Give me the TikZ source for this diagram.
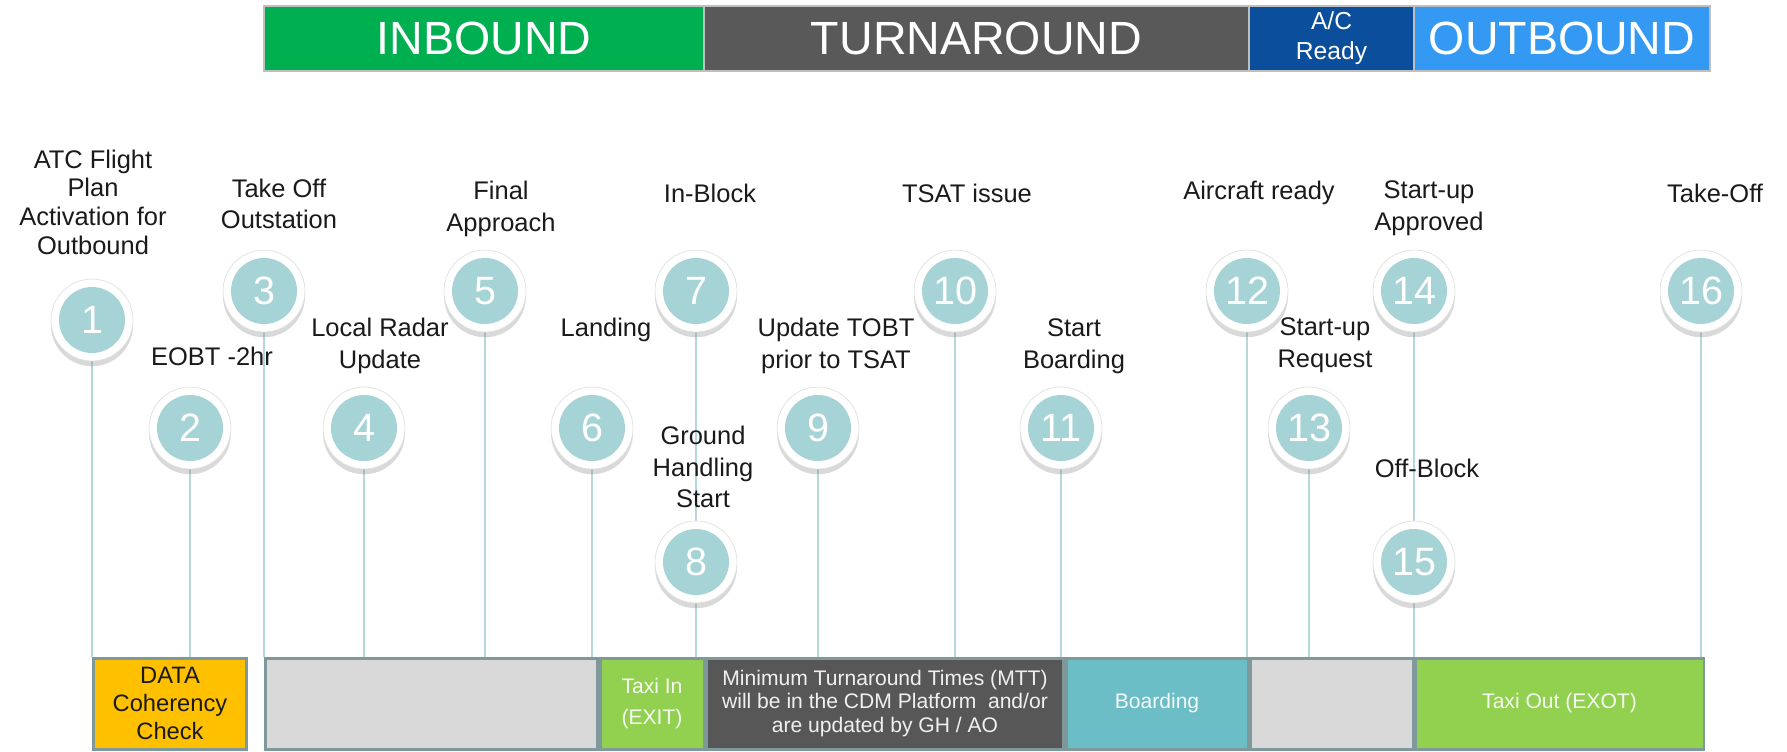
\documentclass[tikz,border=0pt]{standalone}
\usepackage{fontspec}
\setmainfont{Liberation Sans}
\usetikzlibrary{shadows}

\definecolor{inboundgreen}{HTML}{00B050}
\definecolor{turngrey}{HTML}{595959}
\definecolor{acblue}{HTML}{0B4E9C}
\definecolor{outblue}{HTML}{3399F3}
\definecolor{topframe}{HTML}{BFBFBF}
\definecolor{disc}{HTML}{A6D3D6}
\definecolor{stemline}{HTML}{B5D8DA}
\definecolor{barline}{HTML}{7F989A}
\definecolor{datayellow}{HTML}{FFC000}
\definecolor{panelgrey}{HTML}{D9D9D9}
\definecolor{taxigreen}{HTML}{92D050}
\definecolor{boardteal}{HTML}{6BBDC6}
\definecolor{mttgrey}{HTML}{575757}
\definecolor{labeltext}{HTML}{1A1A1A}

\pgfdeclarelayer{background}
\pgfsetlayers{background,main}

\tikzset{
    phase/.style={draw=topframe, line width=0.8pt, text=white, inner sep=0pt,
        minimum height=1.3cm, font=\fontsize{26.5}{30}\selectfont},
    milestone/.style={circle, fill=white, draw=black!12, line width=0.4pt,
        minimum size=1.64cm, inner sep=0pt, text=white,
        font=\fontsize{22.5}{24}\selectfont,
        path picture={\fill[disc] (path picture bounding box.center) circle (0.66cm);},
        drop shadow={shadow xshift=0pt, shadow yshift=-3pt, opacity=0.3}},
    event/.style={align=center, text=labeltext, inner sep=0pt,
        font=\fontsize{14.5}{18}\selectfont},
    stage/.style={draw=barline, line width=1.7pt, inner sep=0pt, align=center,
        minimum height=1.82cm, font=\fontsize{12}{13.5}\selectfont},
    stem/.style={draw=stemline, line width=1.1pt}
}

\begin{document}
\begin{tikzpicture}[x=0.02cm, y=-0.02cm]
        \useasboundingbox (0,0) rectangle (1787,751);

        \node[phase, fill=inboundgreen, minimum width=8.8cm] (inbound) at (484,38.5) {INBOUND};
        \node[phase, fill=turngrey, minimum width=10.9cm] (turnaround) at (976.5,38.5) {TURNAROUND};
        \node[phase, fill=acblue, minimum width=3.3cm, align=center, font=\fontsize{14}{17}\selectfont] (acReady) at (1331.5,38.5) {A/C\\Ready};
        \node[phase, fill=outblue, minimum width=5.92cm] (outbound) at (1562,38.5) {OUTBOUND};

        \node[stage, fill=datayellow, minimum width=3.08cm, text=labeltext, font=\fontsize{13.5}{16}\selectfont] (barDC) at (170,703.5) {DATA\\Coherency\\Check};
        \node[stage, fill=panelgrey, minimum width=6.66cm] (barG1) at (431.5,703.5) {};
        \node[stage, fill=taxigreen, minimum width=2.08cm, text=white!92!taxigreen, font=\fontsize{12}{17.5}\selectfont] (barTI) at (652,703.5) {Taxi In\\(EXIT)};
        \node[stage, fill=mttgrey, minimum width=7.16cm, text=white!94!black] (barMTT) at (885,703.5) {Minimum Turnaround Times (MTT)\\will be in the CDM Platform\ \ and/or\\are updated by GH / AO};
        \node[stage, fill=boardteal, minimum width=3.64cm, text=white!92!boardteal] (barBO) at (1157,703.5) {Boarding};
        \node[stage, fill=panelgrey, minimum width=3.26cm] (barG2) at (1331.5,703.5) {};
        \node[stage, fill=taxigreen, minimum width=5.78cm, text=white!92!taxigreen] (barTO) at (1559.5,703.5) {Taxi Out (EXOT)};

        \node[milestone] (m1) at (92,320) {1};
        \node[milestone] (m2) at (190,428) {2};
        \node[milestone] (m3) at (264,291) {3};
        \node[milestone] (m4) at (364,428) {4};
        \node[milestone] (m5) at (485,291) {5};
        \node[milestone] (m6) at (592,428) {6};
        \node[milestone] (m7) at (696,291) {7};
        \node[milestone] (m8) at (696,562) {8};
        \node[milestone] (m9) at (818,428) {9};
        \node[milestone] (m10) at (955,291) {10};
        \node[milestone] (m11) at (1061,428) {11};
        \node[milestone] (m12) at (1247,291) {12};
        \node[milestone] (m13) at (1309,428) {13};
        \node[milestone] (m14) at (1414,291) {14};
        \node[milestone] (m15) at (1414,562) {15};
        \node[milestone] (m16) at (1701,291) {16};

        \node[event, font=\fontsize{14.5}{16.3}\selectfont] (ev1) at (93,202) {ATC Flight\\Plan\\Activation for\\Outbound};
        \node[event] (ev2) at (212,356) {EOBT -2hr};
        \node[event] (ev3) at (279,204) {Take Off\\Outstation};
        \node[event] (ev4) at (380,346) {Local Radar\\Update};
        \node[event] (ev5) at (501,209) {Final\\Approach};
        \node[event] (ev6) at (606,330) {Landing};
        \node[event] (ev7) at (710,193) {In-Block};
        \node[event] (ev8) at (703,467) {Ground\\Handling\\Start};
        \node[event] (ev9) at (836,346) {Update TOBT\\prior to TSAT};
        \node[event] (ev10) at (967,193) {TSAT issue};
        \node[event] (ev11) at (1074,346) {Start\\Boarding};
        \node[event] (ev12) at (1259,193) {Aircraft ready};
        \node[event] (ev13) at (1325,345) {Start-up\\Request};
        \node[event] (ev14) at (1429,208) {Start-up\\Approved};
        \node[event] (ev15) at (1427,468) {Off-Block};
        \node[event] (ev16) at (1715,193) {Take-Off};

        \begin{pgfonlayer}{background}
        \draw[stem] (m1) -- (m1 |- barDC.north);
        \draw[stem] (m2) -- (m2 |- barDC.north);
        \draw[stem] (m3) -- (m3 |- barG1.north);
        \draw[stem] (m4) -- (m4 |- barG1.north);
        \draw[stem] (m5) -- (m5 |- barG1.north);
        \draw[stem] (m6) -- (m6 |- barG1.north);
        \draw[stem] (m7) -- (m8);
        \draw[stem] (m8) -- (m8 |- barTI.north);
        \draw[stem] (m9) -- (m9 |- barMTT.north);
        \draw[stem] (m10) -- (m10 |- barMTT.north);
        \draw[stem] (m11) -- (m11 |- barMTT.north);
        \draw[stem] (m12) -- (m12 |- barBO.north);
        \draw[stem] (m13) -- (m13 |- barG2.north);
        \draw[stem] (m14) -- (m15);
        \draw[stem] (m15) -- (m15 |- barG2.north);
        \draw[stem] (m16) -- (m16 |- barTO.north);
        \end{pgfonlayer}
\end{tikzpicture}
\end{document}
